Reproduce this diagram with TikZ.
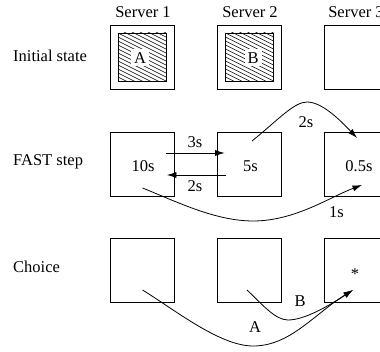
\documentclass[tikz,border=0pt]{standalone}
\usepackage{fontspec}
\setmainfont{Liberation Serif}
\usetikzlibrary{arrows.meta}
\begin{document}
\begin{tikzpicture}[x=1pt,y=-1pt,
  box/.style={draw,line width=0.8pt,minimum width=64pt,minimum height=64pt,inner sep=0pt},
  inbox/.style={draw,line width=0.8pt,minimum width=48pt,minimum height=48pt,inner sep=0pt},
  lbl/.style={font=\fontsize{16.5}{19}\selectfont,anchor=base,inner sep=0pt},
  rowlbl/.style={lbl,anchor=base west},
  hatch/.style={line width=0.5pt},
  arr/.style={line width=0.8pt,-{Latex[length=9.5pt,width=6pt]}},
]
\useasboundingbox (0,0) rectangle (380,352);
% headers
\node[lbl] (s1) at (143,17.3) {Server 1};
\node[lbl] (s2) at (250,17.3) {Server 2};
\node[lbl] (s3) at (356,17.3) {Server 3};
\node[rowlbl] (r1) at (13,61.7) {Initial state};
\node[rowlbl] (r2) at (13,165.7) {FAST step};
\node[rowlbl] (r3) at (13,273) {Choice};
% boxes
\node[box] (i1) at (142.5,57.5) {};
\node[box] (i2) at (249,57.5) {};
\node[box] (i3) at (356,57.5) {};
\node[box] (f1) at (142.5,164) {};
\node[box] (f2) at (249,164) {};
\node[box] (f3) at (356,164) {};
\node[box] (c1) at (142.5,270) {};
\node[box] (c2) at (249,270) {};
\node[box] (c3) at (356,270) {};
% hatched inner boxes
\node[inbox] (h1) at (142,57) {};
\node[inbox] (h2) at (249.5,57) {};
\begin{scope}
\clip (h1.south west) rectangle (h1.north east);
\foreach \k in {-28,-24,...,52} \draw[hatch] (118,33+\k) -- ++(48,24);
\end{scope}
\begin{scope}
\clip (h2.south west) rectangle (h2.north east);
\foreach \k in {-28,-24,...,52} \draw[hatch] (225.5,33+\k) -- ++(48,24);
\end{scope}
\node[inbox] at (h1.center) {};
\node[inbox] at (h2.center) {};
\node[lbl,fill=white,inner sep=3pt] (la) at (140,63.3) {A};
\node[lbl,fill=white,inner sep=3pt] (lb) at (253,63.3) {B};
% FAST step texts
\node[lbl] (t1) at (143,172) {10s};
\node[lbl] (t2) at (250.5,172) {5s};
\node[lbl] (t3) at (359,172) {0.5s};
\node[lbl] (star) at (355,280) {*};
% arrows FAST step
\draw[arr] ([xshift=-9pt,yshift=11pt]f1.east) -- ([xshift=8pt,yshift=11pt]f2.west);
\draw[arr] ([xshift=9pt,yshift=-11pt]f2.west) -- ([xshift=-8pt,yshift=-11pt]f1.east);
\node[lbl] (l3s) at (195,148) {3s};
\node[lbl] (l2sa) at (195,192) {2s};
\draw[arr] ([xshift=3pt,yshift=23pt]f2.center) .. controls (278,120) and (294,102) .. (307,102) .. controls (322,102) and (340,120) .. ([xshift=1pt,yshift=26pt]f3.center);
\node[lbl] (l2sb) at (306,128) {2s};
\draw[arr] ([yshift=-24pt]f1.center) .. controls (175,201) and (215,221) .. (253,221) .. controls (295,221) and (330,197) .. ([xshift=6pt,yshift=-21pt]f3.center);
\node[lbl] (l1s) at (336.5,218) {1s};
% choice arrows
\draw[arr] ([yshift=-20pt]c1.center) .. controls (175,310) and (220,346) .. (253,346) .. controls (290,346) and (313,315) .. ([xshift=-3pt,yshift=-20pt]c3.center);
\draw[arr] ([xshift=-2pt,yshift=-20pt]c2.center) .. controls (262,304) and (275,320) .. (288,320) .. controls (305,320) and (330,305) .. ([xshift=-3pt,yshift=-20pt]c3.center);
\node[lbl] (lA) at (255,333) {A};
\node[lbl] (lB) at (300,307) {B};
\end{tikzpicture}
\end{document}
